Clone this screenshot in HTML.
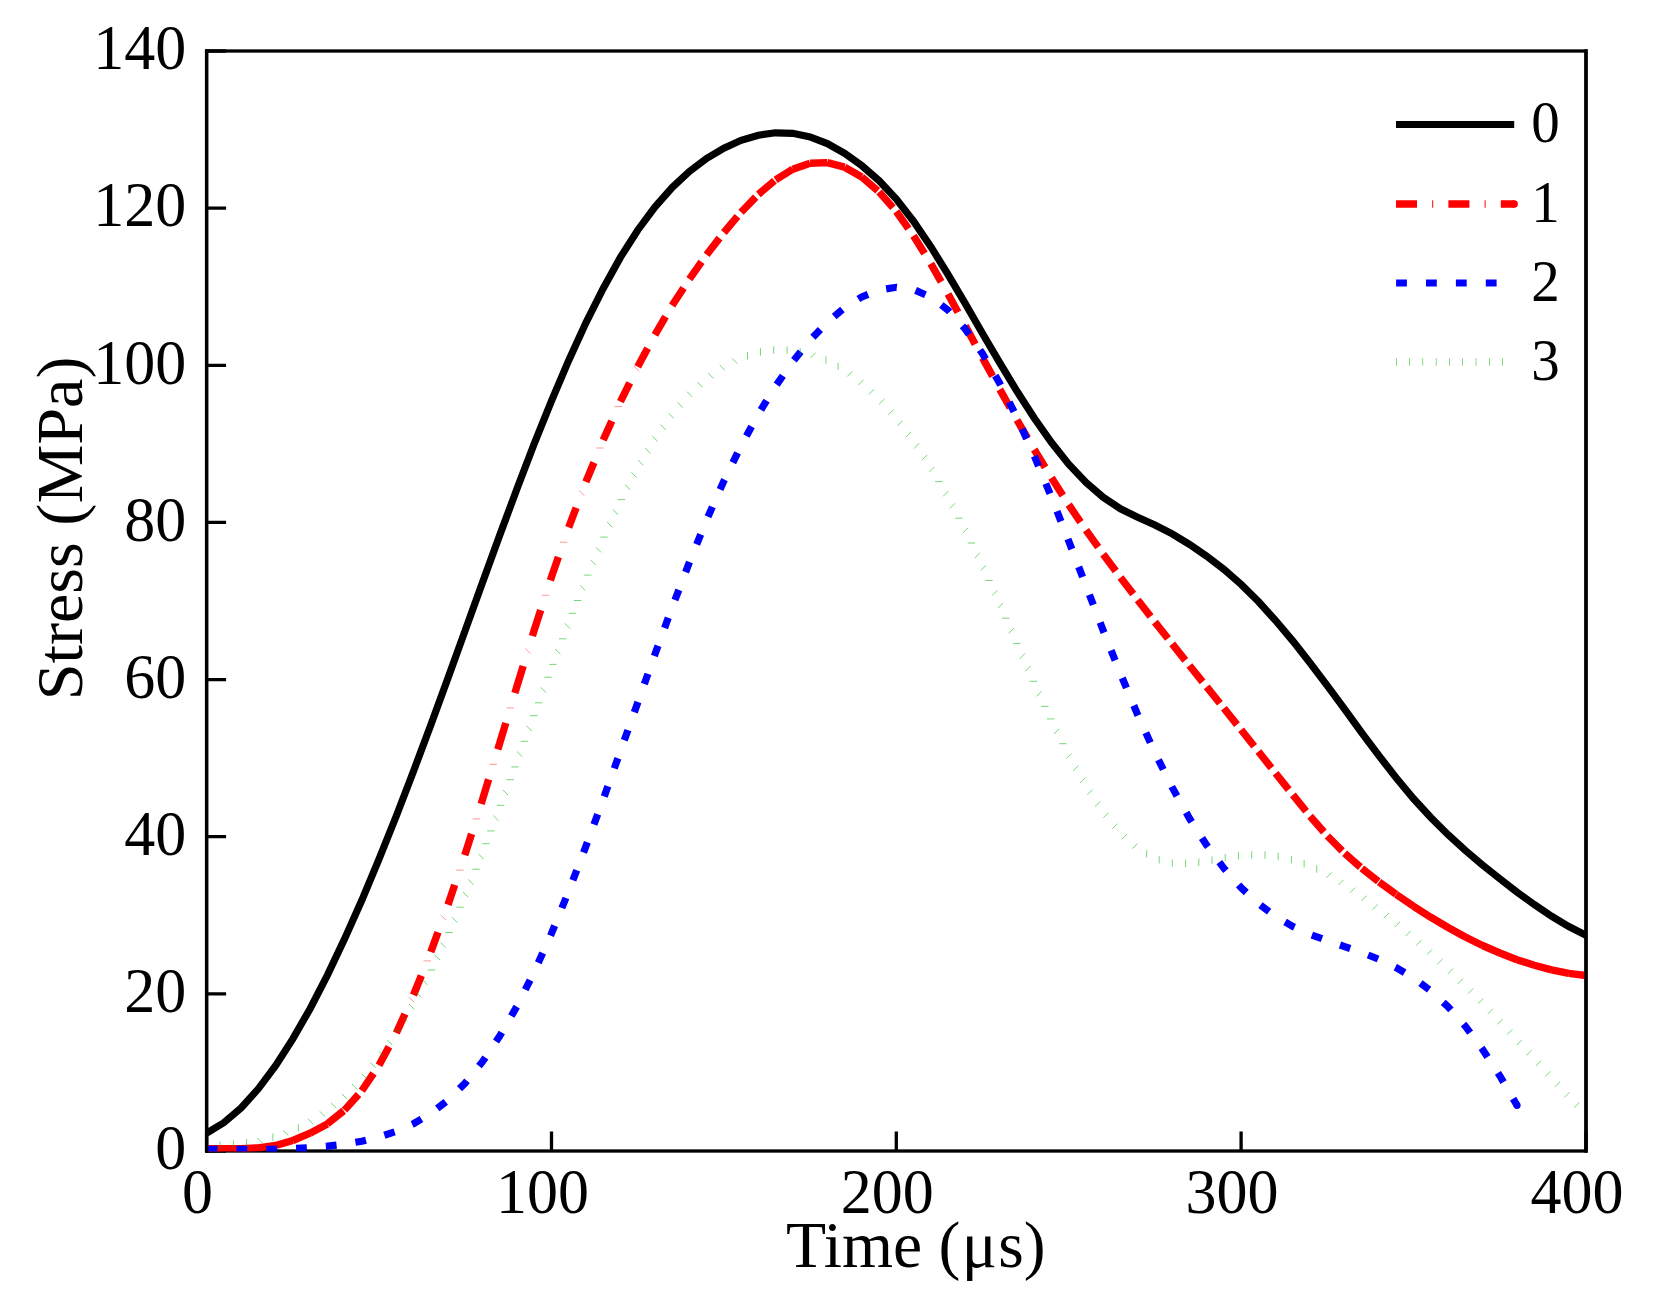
<!DOCTYPE html>
<html lang="en"><head><meta charset="utf-8"><title>Stress vs Time</title>
<style>html,body{margin:0;padding:0;background:#fff}svg{display:block}text{font-family:"Liberation Serif",serif;fill:#000}</style></head><body>
<svg width="1674" height="1293" viewBox="0 0 1674 1293">
<rect width="1674" height="1293" fill="#fff"/>
<defs><clipPath id="c"><rect x="206.6" y="51.0" width="1379.4" height="1100.6"/></clipPath></defs>
<rect x="206.6" y="51.0" width="1379.4" height="1100.0" fill="none" stroke="#000" stroke-width="3.3"/>
<path d="M206.6 1151.0h19.5 M206.6 993.9h19.5 M206.6 836.7h19.5 M206.6 679.6h19.5 M206.6 522.4h19.5 M206.6 365.3h19.5 M206.6 208.1h19.5 M206.6 51.0h19.5 M206.6 1151.0v-19.5 M551.5 1151.0v-19.5 M896.3 1151.0v-19.5 M1241.1 1151.0v-19.5 M1586.0 1151.0v-19.5" stroke="#000" stroke-width="3.3" fill="none"/>
<g clip-path="url(#c)" fill="none" stroke-linejoin="miter" stroke-linecap="butt">
<path d="M206.6 1133.2 L223.8 1122.7 L241.1 1107.9 L258.3 1088.8 L275.6 1065.7 L292.8 1038.9 L310.1 1008.7 L327.3 975.3 L344.5 939.1 L361.8 900.3 L379.0 859.1 L396.3 816.0 L413.5 771.2 L430.8 725.1 L448.0 678.0 L465.2 630.4 L482.5 582.6 L499.7 535.2 L517.0 488.8 L534.2 443.8 L551.5 400.8 L568.7 360.4 L585.9 322.8 L603.2 288.4 L620.4 257.4 L637.7 230.2 L654.9 207.0 L672.1 187.5 L689.4 171.4 L706.6 158.4 L723.9 148.1 L741.1 140.3 L758.4 135.2 L775.6 132.8 L792.8 133.3 L810.1 136.9 L827.3 143.6 L844.6 153.3 L861.8 165.7 L879.1 180.7 L896.3 199.0 L913.5 221.2 L930.8 246.6 L948.0 274.5 L965.3 303.7 L982.5 333.5 L999.8 362.9 L1017.0 391.3 L1034.2 418.0 L1051.5 442.5 L1068.7 464.2 L1086.0 482.4 L1103.2 497.3 L1120.5 508.8 L1137.7 517.3 L1154.9 525.0 L1172.2 533.9 L1189.4 544.4 L1206.7 556.2 L1223.9 569.4 L1241.1 584.4 L1258.4 601.5 L1275.6 620.5 L1292.9 641.1 L1310.1 662.9 L1327.4 685.8 L1344.6 709.2 L1361.8 732.8 L1379.1 755.9 L1396.3 778.0 L1413.6 798.8 L1430.8 817.5 L1448.1 834.7 L1465.3 850.4 L1482.5 865.0 L1499.8 878.8 L1517.0 892.1 L1534.3 904.6 L1551.5 916.2 L1568.8 926.5 L1586.0 935.3" stroke="#000" stroke-width="7.2"/>
<path d="M206.6 1148.6L223.8 1148.6 M223.8 1148.6L241.1 1148.6 M241.1 1148.6L258.3 1147.9 M258.3 1147.9L275.6 1145.5 M275.6 1145.5L292.8 1140.5 M292.8 1140.5L310.1 1133.2 M310.1 1133.2L327.3 1123.9 M327.3 1123.9L344.5 1110.1 M344.5 1110.1L361.8 1090.8 M361.8 1090.8L379.0 1065.2 M379.0 1065.2L396.3 1033.1 M396.3 1033.1L413.5 995.0 M413.5 995.0L430.8 952.0 M430.8 952.0L448.0 904.8 M448.0 904.8L465.2 853.8 M465.2 853.8L482.5 799.5 M482.5 799.5L499.7 743.1 M499.7 743.1L517.0 686.1 M517.0 686.1L534.2 630.2 M534.2 630.2L551.5 576.9 M551.5 576.9L568.7 527.4 M568.7 527.4L585.9 481.9 M585.9 481.9L603.2 440.1 M603.2 440.1L620.4 401.7 M620.4 401.7L637.7 366.8 M637.7 366.8L654.9 334.8 M654.9 334.8L672.1 305.6 M672.1 305.6L689.4 279.1 M689.4 279.1L706.6 254.7 M706.6 254.7L723.9 232.5 M723.9 232.5L741.1 212.2 M741.1 212.2L758.4 194.3 M758.4 194.3L775.6 179.8 M775.6 179.8L792.8 169.2 M792.8 169.2L810.1 163.2 M810.1 163.2L827.3 162.6 M827.3 162.6L844.6 167.2 M844.6 167.2L861.8 177.0 M861.8 177.0L879.1 191.9 M879.1 191.9L896.3 211.5 M896.3 211.5L913.5 235.7 M913.5 235.7L930.8 263.6 M930.8 263.6L948.0 293.9 M948.0 293.9L965.3 325.8 M965.3 325.8L982.5 357.9 M982.5 357.9L999.8 389.4 M999.8 389.4L1017.0 420.0 M1017.0 420.0L1034.2 449.5 M1034.2 449.5L1051.5 477.8 M1051.5 477.8L1068.7 504.7 M1068.7 504.7L1086.0 530.1 M1086.0 530.1L1103.2 554.2 M1103.2 554.2L1120.5 577.4 M1120.5 577.4L1137.7 600.0 M1137.7 600.0L1154.9 622.1 M1154.9 622.1L1172.2 643.9 M1172.2 643.9L1189.4 665.5 M1189.4 665.5L1206.7 686.9 M1206.7 686.9L1223.9 708.2 M1223.9 708.2L1241.1 729.8 M1241.1 729.8L1258.4 751.5 M1258.4 751.5L1275.6 773.2 M1275.6 773.2L1292.9 794.9 M1292.9 794.9L1310.1 816.2 M1310.1 816.2L1327.4 836.0 M1327.4 836.0L1344.6 853.3 M1344.6 853.3L1361.8 868.4 M1361.8 868.4L1379.1 882.0 M1379.1 882.0L1396.3 894.5 M1396.3 894.5L1413.6 906.3 M1413.6 906.3L1430.8 917.3 M1430.8 917.3L1448.1 927.5 M1448.1 927.5L1465.3 937.0 M1465.3 937.0L1482.5 945.5 M1482.5 945.5L1499.8 953.0 M1499.8 953.0L1517.0 959.7 M1517.0 959.7L1534.3 965.3 M1534.3 965.3L1551.5 969.9 M1551.5 969.9L1568.8 973.4 M1568.8 973.4L1586.0 975.5" stroke="#f00" stroke-width="7.4" stroke-dasharray="21 31.4"/>
<path d="M408.8 997.0L414.0 1002.2 M423.5 960.9L430.9 960.9 M440.7 914.9L446.0 920.1 M456.1 870.1L463.5 870.1 M472.6 818.9L480.0 818.9 M489.5 764.4L496.9 764.4 M506.7 707.9L514.1 707.9 M525.2 648.4L530.4 653.6 M541.8 595.3L549.2 595.3 M559.8 542.2L567.2 542.2 M579.1 490.4L584.3 495.7 M596.2 448.0L603.6 448.0 M614.5 406.6L621.9 406.6 M634.0 366.2L639.3 371.4" stroke="#f00" stroke-width="0.9" stroke-opacity="0.45"/>
<path d="M206.6 1149.4 L223.8 1149.4 L241.1 1149.4 L258.3 1149.4 L275.6 1149.3 L292.8 1148.6 L310.1 1147.6 L327.3 1146.2 L344.5 1144.2 L361.8 1141.2 L379.0 1137.0 L396.3 1131.4 L413.5 1123.7 L430.8 1113.4 L448.0 1100.1 L465.2 1083.0 L482.5 1061.7 L499.7 1036.1 L517.0 1006.2 L534.2 971.9 L551.5 933.4 L568.7 891.2 L585.9 846.3 L603.2 799.4 L620.4 751.2 L637.7 702.7 L654.9 654.4 L672.1 607.4 L689.4 562.3 L706.6 519.9 L723.9 480.9 L741.1 445.7 L758.4 414.0 L775.6 386.1 L792.8 361.6 L810.1 340.2 L827.3 322.2 L844.6 307.6 L861.8 296.9 L879.1 289.9 L896.3 287.3 L913.5 289.5 L930.8 297.0 L948.0 310.1 L965.3 329.1 L982.5 353.7 L999.8 383.4 L1017.0 417.5 L1034.2 455.7 L1051.5 497.2 L1068.7 541.0 L1086.0 585.8 L1103.2 630.5 L1120.5 673.8 L1137.7 714.8 L1154.9 752.7 L1172.2 787.4 L1189.4 818.3 L1206.7 845.3 L1223.9 868.3 L1241.1 887.7 L1258.4 903.7 L1275.6 916.5 L1292.9 926.5 L1310.1 934.4 L1327.4 940.7 L1344.6 946.6 L1361.8 952.5 L1379.1 959.4 L1396.3 967.7 L1413.6 978.0 L1430.8 990.9 L1448.1 1006.8 L1465.3 1026.2 L1482.5 1049.2 L1499.8 1075.8 L1517.0 1105.3" stroke="#00f" stroke-width="7.2" stroke-dasharray="10.8 19.035"/>
<circle cx="1517.0" cy="1105.3" r="3.6" fill="#00f" stroke="none"/>
<path d="M206.8 1141.8L206.8 1149.2 M220.1 1141.5L220.1 1148.9 M233.4 1140.5L233.4 1147.9 M246.6 1139.0L246.6 1146.4 M257.2 1137.8L262.4 1143.0 M272.9 1133.4L272.9 1140.8 M283.1 1130.4L288.4 1135.6 M298.3 1124.1L298.3 1131.5 M308.0 1118.9L313.3 1124.2 M319.8 1111.3L325.1 1116.6 M331.1 1103.0L336.3 1108.2 M342.0 1094.0L347.2 1099.3 M351.9 1083.9L357.2 1089.2 M361.6 1073.6L366.8 1078.8 M370.5 1062.6L375.8 1067.9 M379.1 1051.5L384.4 1056.7 M387.1 1039.9L392.3 1045.1 M393.8 1030.8L401.2 1030.8 M402.1 1016.2L407.3 1021.4 M409.2 1004.2L414.4 1009.4 M415.9 991.9L421.1 997.2 M422.4 979.7L427.6 984.9 M427.7 970.0L435.1 970.0 M434.7 954.9L440.0 960.1 M440.7 942.4L445.9 947.6 M445.4 932.5L452.8 932.5 M452.0 917.2L457.3 922.5 M456.4 907.2L463.8 907.2 M463.0 892.0L468.2 897.2 M468.1 879.3L473.4 884.5 M472.2 869.2L479.6 869.2 M478.4 853.9L483.7 859.1 M482.3 843.7L489.7 843.7 M487.2 830.9L494.6 830.9 M493.2 815.5L498.4 820.7 M497.0 805.3L504.4 805.3 M502.8 789.9L508.1 795.1 M506.5 779.7L513.9 779.7 M511.3 766.9L518.7 766.9 M517.1 751.5L522.3 756.7 M520.7 741.3L528.1 741.3 M526.5 725.8L531.8 731.1 M530.2 715.6L537.6 715.6 M534.9 702.8L542.3 702.8 M540.8 687.4L546.0 692.6 M544.4 677.2L551.8 677.2 M549.2 664.4L556.6 664.4 M555.1 649.0L560.4 654.2 M558.9 638.8L566.3 638.8 M564.9 623.4L570.1 628.6 M568.8 613.3L576.2 613.3 M573.9 600.5L581.3 600.5 M580.0 585.2L585.2 590.4 M584.1 575.1L591.5 575.1 M590.5 559.8L595.8 565.1 M595.9 547.2L601.1 552.4 M600.2 537.1L607.6 537.1 M607.1 522.0L612.3 527.2 M612.8 509.5L618.1 514.7 M617.6 499.6L625.0 499.6 M625.0 484.6L630.3 489.9 M631.4 472.3L636.6 477.5 M638.1 460.1L643.3 465.4 M645.2 448.2L650.5 453.4 M652.4 436.2L657.7 441.4 M660.5 424.7L665.8 429.9 M668.6 413.2L673.9 418.4 M677.7 402.4L682.9 407.7 M687.0 391.7L692.2 397.0 M697.4 382.1L702.6 387.4 M708.2 373.1L713.4 378.3 M719.7 365.0L724.9 370.2 M732.1 358.4L737.3 363.6 M747.5 352.0L747.5 359.4 M760.5 348.2L760.5 355.6 M773.7 346.3L773.7 353.7 M787.1 346.5L787.1 353.9 M800.2 348.3L800.2 355.7 M815.8 352.6L810.6 357.8 M826.0 356.3L826.0 363.7 M838.1 362.7L838.1 370.1 M852.4 371.3L847.2 376.5 M863.8 379.6L858.5 384.9 M874.2 389.1L868.9 394.4 M884.3 399.0L879.1 404.2 M893.7 409.6L888.4 414.8 M902.6 420.5L897.4 425.8 M911.1 431.8L905.8 437.1 M919.2 443.3L914.0 448.6 M926.9 455.1L921.6 460.3 M934.4 466.9L929.2 472.1 M942.5 481.6L935.1 481.6 M948.4 491.0L943.2 496.3 M955.0 503.3L949.8 508.5 M962.6 518.2L955.2 518.2 M968.0 527.9L962.7 533.1 M975.1 543.0L967.7 543.0 M980.0 552.8L974.8 558.0 M986.0 565.3L980.7 570.5 M992.7 580.5L985.3 580.5 M997.3 590.4L992.1 595.6 M1002.9 603.0L997.7 608.2 M1009.5 618.2L1002.1 618.2 M1014.0 628.2L1008.7 633.4 M1020.6 643.4L1013.2 643.4 M1025.0 653.4L1019.8 658.7 M1030.5 666.0L1025.3 671.3 M1037.1 681.3L1029.7 681.3 M1041.7 691.2L1036.5 696.4 M1048.5 706.4L1041.1 706.4 M1054.3 718.9L1046.9 718.9 M1059.3 728.7L1054.0 733.9 M1066.5 743.7L1059.1 743.7 M1071.6 753.5L1066.4 758.7 M1078.4 765.6L1073.2 770.8 M1085.3 777.7L1080.1 783.0 M1092.6 789.6L1087.4 794.8 M1100.4 801.3L1095.1 806.5 M1108.5 812.7L1103.3 817.9 M1117.5 823.6L1112.3 828.8 M1127.1 834.0L1121.8 839.2 M1137.6 843.5L1132.3 848.7 M1146.7 850.1L1146.7 857.5 M1159.2 856.1L1159.2 863.5 M1172.3 859.5L1172.3 866.9 M1185.6 859.7L1185.6 867.1 M1198.8 858.6L1198.8 866.0 M1212.0 856.5L1212.0 863.9 M1225.2 854.0L1225.2 861.4 M1238.4 852.0L1238.4 859.4 M1251.7 851.1L1251.7 858.5 M1265.0 851.4L1265.0 858.8 M1278.2 852.9L1278.2 860.3 M1291.4 855.8L1291.4 863.2 M1304.1 860.0L1304.1 867.4 M1316.7 865.3L1316.7 872.7 M1331.7 872.5L1326.4 877.8 M1343.6 879.8L1338.4 885.0 M1355.2 887.6L1350.0 892.8 M1366.7 895.7L1361.4 901.0 M1377.9 904.3L1372.7 909.5 M1389.0 913.0L1383.7 918.2 M1400.0 921.9L1394.7 927.1 M1410.8 930.9L1405.6 936.1 M1421.6 940.1L1416.3 945.3 M1432.2 949.4L1427.0 954.6 M1442.6 959.0L1437.4 964.2 M1453.0 968.6L1447.8 973.9 M1463.2 978.5L1457.9 983.7 M1473.3 988.4L1468.0 993.7 M1483.2 998.5L1478.0 1003.7 M1493.0 1008.7L1487.8 1013.9 M1502.8 1019.0L1497.6 1024.2 M1512.4 1029.3L1507.2 1034.6 M1522.0 1039.8L1516.8 1045.0 M1531.5 1050.2L1526.3 1055.5 M1541.0 1060.7L1535.8 1066.0 M1550.5 1071.2L1545.3 1076.5 M1560.1 1081.7L1554.8 1086.9 M1569.6 1092.2L1564.4 1097.4 M1579.3 1102.5L1574.1 1107.7" stroke="#00b400" stroke-width="0.9" stroke-opacity="0.6"/>
</g>
<path d="M206.6 51.0V1151.0M1586.0 51.0V1151.0" stroke="#000" stroke-width="3.3" fill="none" stroke-linecap="square"/>
<g fill="none" stroke-linecap="butt">
<path d="M1396 124.6H1514.2" stroke="#000" stroke-width="7"/>
<path d="M1396 204H1514.2" stroke="#f00" stroke-width="7.4" stroke-dasharray="21 15.2 1 15.2"/>
<circle cx="1514.2" cy="204" r="3.7" fill="#f00" stroke="none"/>
<path d="M1396.1 283H1514.2" stroke="#00f" stroke-width="7.1" stroke-dasharray="10.8 19.1"/>
<path d="M1396 362H1514.2" stroke="#00be00" stroke-width="7.4" stroke-dasharray="0.5 12.8"/>
</g>
<text transform="translate(1545.6 142.2) scale(1 1.024)" font-size="57" text-anchor="middle">0</text>
<text transform="translate(1545.6 221.6) scale(1 1.024)" font-size="57" text-anchor="middle">1</text>
<text transform="translate(1545.6 300.6) scale(1 1.024)" font-size="57" text-anchor="middle">2</text>
<text transform="translate(1545.6 379.6) scale(1 1.024)" font-size="57" text-anchor="middle">3</text>
<text transform="translate(186.3 1169.3) scale(1 1.024)" font-size="62" text-anchor="end">0</text>
<text transform="translate(186.3 1012.2) scale(1 1.024)" font-size="62" text-anchor="end">20</text>
<text transform="translate(186.3 855.0) scale(1 1.024)" font-size="62" text-anchor="end">40</text>
<text transform="translate(186.3 697.9) scale(1 1.024)" font-size="62" text-anchor="end">60</text>
<text transform="translate(186.3 540.7) scale(1 1.024)" font-size="62" text-anchor="end">80</text>
<text transform="translate(186.3 383.6) scale(1 1.024)" font-size="62" text-anchor="end">100</text>
<text transform="translate(186.3 226.4) scale(1 1.024)" font-size="62" text-anchor="end">120</text>
<text transform="translate(186.3 69.3) scale(1 1.024)" font-size="62" text-anchor="end">140</text>
<text transform="translate(197.6 1212.7) scale(1 1.024)" font-size="62" text-anchor="middle">0</text>
<text transform="translate(542.5 1212.7) scale(1 1.024)" font-size="62" text-anchor="middle">100</text>
<text transform="translate(887.3 1212.7) scale(1 1.024)" font-size="62" text-anchor="middle">200</text>
<text transform="translate(1232.1 1212.7) scale(1 1.024)" font-size="62" text-anchor="middle">300</text>
<text transform="translate(1577.0 1212.7) scale(1 1.024)" font-size="62" text-anchor="middle">400</text>
<text x="786.1" y="1267.2" font-size="65.6">Time (<tspan dx="1.3">μ</tspan><tspan dx="1.3">s)</tspan></text>
<text transform="translate(82 528.4) rotate(-90)" font-size="66.2" text-anchor="middle">Stress (MPa)</text>
</svg></body></html>
